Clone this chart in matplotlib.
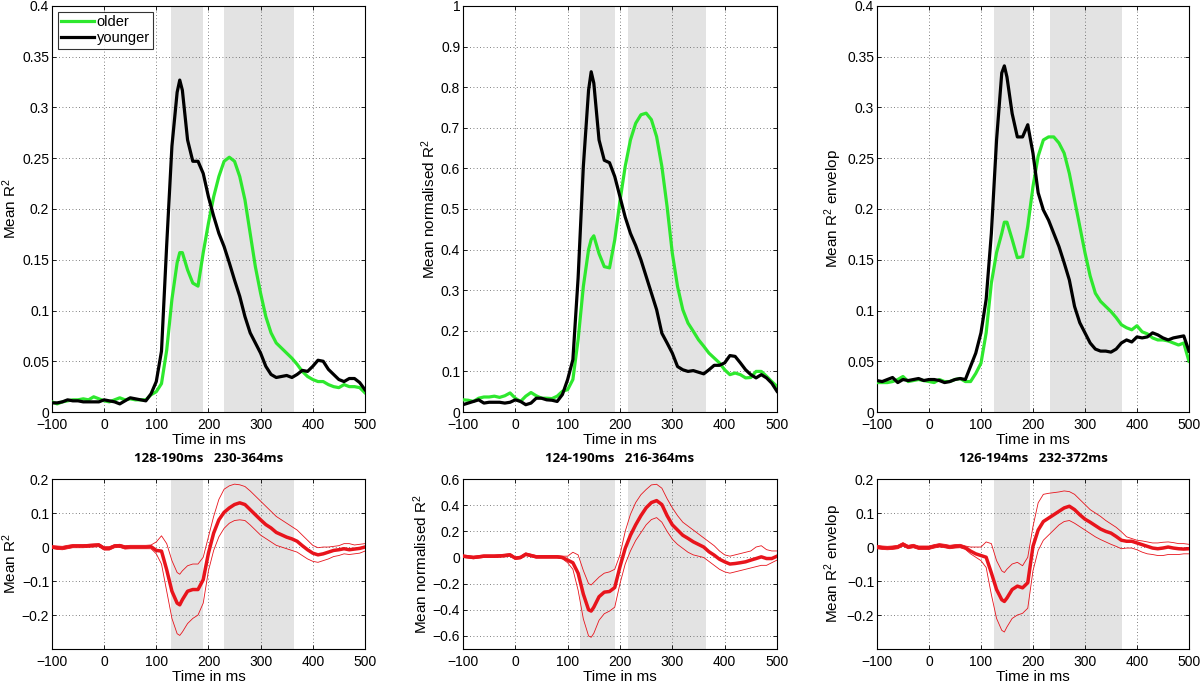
import matplotlib
matplotlib.use("Agg")
import matplotlib.pyplot as plt
from matplotlib.ticker import FuncFormatter

plt.rcParams['font.family'] = ['Liberation Sans', 'DejaVu Sans']
plt.rcParams['mathtext.fontset'] = 'custom'
plt.rcParams['mathtext.rm'] = 'Liberation Sans'
plt.rcParams['mathtext.it'] = 'Liberation Sans:italic'
plt.rcParams['font.size'] = 10.5

# time axis (ms): -100..140, 145, 150..500
time_ms = list(range(-100, 141, 10)) + [145] + list(range(150, 501, 10))

# ---- top row: older vs younger ----
r2_young = [0.009, 0.009, 0.010, 0.012, 0.011, 0.011, 0.010, 0.010, 0.010, 0.010,
            0.012, 0.011, 0.010, 0.008, 0.011, 0.014, 0.013, 0.012, 0.011, 0.018,
            0.030, 0.060, 0.165, 0.262, 0.315,
            0.327,
            0.317, 0.268, 0.247, 0.247, 0.235,
            0.212, 0.193, 0.176, 0.163, 0.147, 0.130, 0.114, 0.094, 0.078, 0.068,
            0.058, 0.045, 0.037, 0.034, 0.035, 0.036, 0.034, 0.037, 0.041, 0.040,
            0.045, 0.051, 0.050, 0.042, 0.037, 0.032, 0.030, 0.033, 0.033, 0.029,
            0.022]
r2_old = [0.010, 0.008, 0.010, 0.011, 0.012, 0.012, 0.013, 0.012, 0.015, 0.013,
          0.011, 0.010, 0.012, 0.014, 0.012, 0.013, 0.012, 0.012, 0.012, 0.017,
          0.020, 0.028, 0.061, 0.111, 0.147,
          0.157,
          0.157, 0.140, 0.127, 0.124, 0.157,
          0.186, 0.212, 0.232, 0.247, 0.251, 0.247, 0.232, 0.209, 0.176, 0.143,
          0.117, 0.094, 0.078, 0.068, 0.063, 0.058, 0.053, 0.047, 0.040, 0.035,
          0.032, 0.030, 0.030, 0.027, 0.025, 0.024, 0.027, 0.025, 0.025, 0.024,
          0.019]

norm_young = [0.018, 0.022, 0.026, 0.030, 0.022, 0.024, 0.024, 0.024, 0.022, 0.024,
              0.030, 0.026, 0.018, 0.022, 0.034, 0.034, 0.030, 0.029, 0.026, 0.043,
              0.080, 0.129, 0.330, 0.605, 0.793,
              0.838,
              0.810, 0.670, 0.620, 0.614, 0.580,
              0.530, 0.480, 0.440, 0.410, 0.375, 0.334, 0.293, 0.252, 0.194, 0.170,
              0.145, 0.112, 0.104, 0.100, 0.102, 0.098, 0.094, 0.104, 0.115, 0.115,
              0.121, 0.139, 0.137, 0.121, 0.104, 0.092, 0.084, 0.092, 0.084, 0.071,
              0.051]
norm_old = [0.030, 0.029, 0.026, 0.034, 0.037, 0.037, 0.039, 0.036, 0.040, 0.047,
            0.034, 0.026, 0.039, 0.048, 0.040, 0.034, 0.034, 0.033, 0.039, 0.051,
            0.055, 0.080, 0.178, 0.309, 0.400,
            0.425,
            0.434, 0.390, 0.358, 0.355, 0.424,
            0.520, 0.605, 0.670, 0.711, 0.732, 0.736, 0.720, 0.678, 0.605, 0.506,
            0.391, 0.309, 0.252, 0.219, 0.199, 0.178, 0.162, 0.145, 0.133, 0.121,
            0.104, 0.092, 0.096, 0.092, 0.084, 0.085, 0.100, 0.100, 0.088, 0.075,
            0.063]

env_young = [0.031, 0.030, 0.032, 0.034, 0.029, 0.032, 0.031, 0.032, 0.033, 0.031,
             0.032, 0.032, 0.031, 0.029, 0.030, 0.032, 0.033, 0.032, 0.045, 0.058,
             0.078, 0.111, 0.176, 0.268, 0.334,
             0.341,
             0.330, 0.294, 0.271, 0.271, 0.283,
             0.255, 0.216, 0.199, 0.189, 0.176, 0.163, 0.147, 0.130, 0.104, 0.088,
             0.078, 0.068, 0.062, 0.060, 0.060, 0.059, 0.062, 0.068, 0.071, 0.069,
             0.074, 0.073, 0.074, 0.078, 0.076, 0.073, 0.071, 0.073, 0.074, 0.075,
             0.060]
env_old = [0.029, 0.029, 0.029, 0.030, 0.032, 0.035, 0.030, 0.031, 0.032, 0.031,
           0.030, 0.029, 0.032, 0.030, 0.030, 0.032, 0.033, 0.030, 0.030, 0.038,
           0.048, 0.078, 0.127, 0.157, 0.176,
           0.187,
           0.187, 0.170, 0.152, 0.153, 0.183,
           0.222, 0.252, 0.268, 0.271, 0.271, 0.265, 0.255, 0.235, 0.209, 0.183,
           0.157, 0.134, 0.117, 0.109, 0.104, 0.099, 0.093, 0.086, 0.083, 0.081,
           0.085, 0.079, 0.077, 0.073, 0.071, 0.071, 0.070, 0.068, 0.066, 0.068,
           0.050]

# ---- bottom row: difference (older - younger) with confidence bounds ----
diff_r2 = [0.000, -0.002, -0.003, 0.000, 0.003, 0.003, 0.003, 0.004, 0.005, 0.006,
           -0.004, -0.004, 0.003, 0.004, -0.001, 0.000, 0.000, 0.000, 0.000, 0.001,
           -0.010, -0.012, -0.067, -0.130, -0.165,
           -0.170,
           -0.155, -0.130, -0.125, -0.125, -0.096,
           -0.018, 0.041, 0.080, 0.102, 0.115, 0.125, 0.130, 0.125, 0.110, 0.095,
           0.080, 0.066, 0.056, 0.043, 0.036, 0.029, 0.024, 0.017, 0.004, -0.008,
           -0.018, -0.023, -0.020, -0.015, -0.010, -0.008, -0.005, -0.008, -0.006, -0.004,
           0.000]
diff_r2_hi = [0.004, 0.003, 0.002, 0.005, 0.007, 0.007, 0.007, 0.008, 0.009, 0.010,
              0.001, 0.001, 0.007, 0.008, 0.004, 0.005, 0.005, 0.005, 0.005, 0.006,
              0.015, 0.033, 0.010, -0.040, -0.075,
              -0.080,
              -0.070, -0.055, -0.050, -0.050, -0.030,
              0.030, 0.090, 0.140, 0.170, 0.180, 0.185, 0.183, 0.178, 0.165, 0.150,
              0.135, 0.120, 0.105, 0.090, 0.080, 0.070, 0.060, 0.050, 0.035, 0.020,
              0.005, -0.002, 0.000, 0.000, 0.002, 0.004, 0.010, 0.010, 0.006, 0.008,
              0.010]
diff_r2_lo = [-0.004, -0.007, -0.008, -0.005, -0.002, -0.002, -0.002, -0.001, 0.000, 0.001,
              -0.009, -0.009, -0.002, -0.001, -0.006, -0.005, -0.005, -0.005, -0.005, -0.005,
              -0.020, -0.050, -0.130, -0.210, -0.255,
              -0.260,
              -0.250, -0.225, -0.210, -0.200, -0.165,
              -0.070, -0.010, 0.030, 0.055, 0.070, 0.078, 0.080, 0.078, 0.065, 0.050,
              0.035, 0.025, 0.015, 0.005, 0.000, -0.005, -0.010, -0.015, -0.025, -0.035,
              -0.042, -0.045, -0.040, -0.035, -0.028, -0.025, -0.020, -0.022, -0.020, -0.018,
              -0.012]

diff_norm = [0.010, 0.005, 0.000, 0.005, 0.010, 0.010, 0.010, 0.012, 0.015, 0.020,
             -0.005, 0.000, 0.025, 0.015, 0.005, 0.005, 0.005, 0.005, 0.005, 0.000,
             -0.020, -0.040, -0.120, -0.280, -0.400,
             -0.410,
             -0.380, -0.300, -0.265, -0.260, -0.230,
             -0.070, 0.070, 0.170, 0.250, 0.320, 0.380, 0.420, 0.435, 0.405, 0.320,
             0.250, 0.210, 0.170, 0.146, 0.120, 0.100, 0.080, 0.044, 0.018, -0.013,
             -0.033, -0.050, -0.046, -0.040, -0.033, -0.020, -0.008, 0.005, -0.008, -0.008,
             0.010]
diff_norm_hi = [0.020, 0.015, 0.010, 0.015, 0.020, 0.020, 0.020, 0.022, 0.025, 0.030,
                0.005, 0.010, 0.035, 0.025, 0.015, 0.015, 0.015, 0.015, 0.015, 0.010,
                0.010, 0.040, 0.020, -0.100, -0.200,
                -0.210,
                -0.190, -0.150, -0.120, -0.110, -0.090,
                0.020, 0.200, 0.330, 0.420, 0.480, 0.520, 0.555, 0.560, 0.530, 0.450,
                0.380, 0.320, 0.270, 0.240, 0.210, 0.180, 0.150, 0.120, 0.090, 0.050,
                0.020, 0.010, 0.020, 0.030, 0.040, 0.050, 0.080, 0.090, 0.060, 0.050,
                0.050]
diff_norm_lo = [0.000, -0.005, -0.010, -0.005, 0.000, 0.000, 0.000, 0.002, 0.005, 0.010,
                -0.015, -0.010, 0.015, 0.005, -0.005, -0.005, -0.005, -0.005, -0.005, -0.010,
                -0.040, -0.090, -0.250, -0.470, -0.600,
                -0.610,
                -0.580, -0.480, -0.430, -0.410, -0.380,
                -0.200, -0.050, 0.050, 0.130, 0.190, 0.250, 0.290, 0.305, 0.270, 0.200,
                0.140, 0.100, 0.070, 0.040, 0.020, 0.010, 0.000, -0.030, -0.060, -0.090,
                -0.110, -0.120, -0.110, -0.100, -0.090, -0.080, -0.070, -0.060, -0.060, -0.040,
                -0.020]

diff_env = [0.000, -0.002, -0.003, -0.002, 0.000, 0.008, 0.000, 0.003, -0.002, -0.002,
            -0.002, 0.002, 0.005, 0.003, 0.000, 0.002, 0.003, -0.002, -0.012, -0.020,
            -0.025, -0.030, -0.076, -0.125, -0.155,
            -0.160,
            -0.150, -0.125, -0.115, -0.120, -0.105,
            0.002, 0.050, 0.075, 0.085, 0.095, 0.105, 0.115, 0.120, 0.110, 0.095,
            0.082, 0.073, 0.063, 0.053, 0.046, 0.041, 0.031, 0.020, 0.017, 0.017,
            0.012, 0.007, 0.002, -0.003, -0.005, -0.003, 0.000, -0.003, -0.005, -0.006,
            -0.005]
diff_env_hi = [0.005, 0.003, 0.002, 0.003, 0.005, 0.013, 0.005, 0.008, 0.003, 0.003,
               0.003, 0.007, 0.010, 0.008, 0.005, 0.007, 0.008, 0.003, 0.000, 0.000,
               0.000, 0.015, 0.010, -0.040, -0.070,
               -0.075,
               -0.065, -0.050, -0.045, -0.055, -0.030,
               0.060, 0.130, 0.155, 0.158, 0.160, 0.162, 0.165, 0.163, 0.155, 0.140,
               0.125, 0.110, 0.100, 0.090, 0.078, 0.068, 0.058, 0.045, 0.030, 0.025,
               0.020, 0.018, 0.015, 0.012, 0.012, 0.014, 0.015, 0.013, 0.010, 0.010,
               0.008]
diff_env_lo = [-0.005, -0.007, -0.008, -0.007, -0.005, 0.003, -0.005, -0.002, -0.007, -0.007,
               -0.007, -0.003, 0.000, -0.002, -0.005, -0.003, -0.002, -0.007, -0.020, -0.030,
               -0.040, -0.060, -0.140, -0.210, -0.245,
               -0.250,
               -0.235, -0.210, -0.200, -0.195, -0.180,
               -0.070, -0.010, 0.020, 0.035, 0.050, 0.065, 0.075, 0.078, 0.070, 0.060,
               0.050, 0.040, 0.030, 0.022, 0.015, 0.008, 0.002, -0.005, -0.003, -0.003,
               -0.008, -0.015, -0.020, -0.022, -0.025, -0.025, -0.022, -0.022, -0.022, -0.020,
               -0.020]

# significant windows (ms) per measure
windows = [[(128, 190), (230, 364)],
           [(124, 190), (216, 364)],
           [(126, 194), (232, 372)]]
window_labels = ['128-190ms   230-364ms', '124-190ms   216-364ms', '126-194ms   232-372ms']

ylabels = ['Mean R$^2$', 'Mean normalised R$^2$', 'Mean R$^2$ envelop']
top_ylim = [(0, 0.4), (0, 1), (0, 0.4)]
top_yticks = [[0, 0.05, 0.1, 0.15, 0.2, 0.25, 0.3, 0.35, 0.4],
              [0, 0.1, 0.2, 0.3, 0.4, 0.5, 0.6, 0.7, 0.8, 0.9, 1],
              [0, 0.05, 0.1, 0.15, 0.2, 0.25, 0.3, 0.35, 0.4]]
bot_ylim = [(-0.3, 0.2), (-0.7, 0.6), (-0.3, 0.2)]
bot_yticks = [[-0.2, -0.1, 0, 0.1, 0.2],
              [-0.6, -0.4, -0.2, 0, 0.2, 0.4, 0.6],
              [-0.2, -0.1, 0, 0.1, 0.2]]
xticks = [-100, 0, 100, 200, 300, 400, 500]

top_old = [r2_old, norm_old, env_old]
top_young = [r2_young, norm_young, env_young]
bot_mean = [diff_r2, diff_norm, diff_env]
bot_hi = [diff_r2_hi, diff_norm_hi, diff_env_hi]
bot_lo = [diff_r2_lo, diff_norm_lo, diff_env_lo]

green = '#2ee82e'
red = '#e8141c'
shade = '#e3e3e3'

fig = plt.figure(figsize=(12, 6.86), dpi=100)
lefts = [0.0433, 0.3858, 0.7308]
widths = [0.2608, 0.2617, 0.2600]


def fmt(v, pos):
    return ('%g' % v).replace('-', '\u2212')


def style(ax, yticks, ylim):
    ax.set_xlim(-100, 500)
    ax.set_ylim(*ylim)
    ax.set_xticks(xticks)
    ax.set_yticks(yticks)
    ax.yaxis.set_major_formatter(FuncFormatter(fmt))
    ax.xaxis.set_major_formatter(FuncFormatter(fmt))
    ax.grid(True, linestyle=(0, (1, 3)), color='#555555', linewidth=0.6)
    ax.tick_params(direction='in', top=True, right=True, length=3, width=0.6,
                   pad=2, labelsize=10)
    ax.tick_params(axis='x', pad=4.5)
    for s in ax.spines.values():
        s.set_linewidth(0.8)
    ax.set_axisbelow(True)
    ax.set_xlabel('Time in ms', labelpad=0.5, fontsize=11)


for i in range(3):
    ax = fig.add_axes([lefts[i], 0.3994, widths[i], 0.5919])
    for a, b in windows[i]:
        ax.axvspan(a, b, color=shade, lw=0, zorder=0.5)
    ax.plot(time_ms, top_old[i], color=green, lw=2.3, label='older', zorder=3,
            solid_joinstyle='round')
    ax.plot(time_ms, top_young[i], color='black', lw=2.3, label='younger', zorder=3,
            solid_joinstyle='round')
    style(ax, top_yticks[i], top_ylim[i])
    ax.set_ylabel(ylabels[i], labelpad=2, fontsize=11)
    if i == 0:
        leg = ax.legend(loc='upper left', fancybox=False, edgecolor='black',
                        handlelength=2.2, borderpad=0.25, labelspacing=0.1,
                        handletextpad=0.2, borderaxespad=0.4, fontsize=10.5)
        leg.get_frame().set_linewidth(0.8)
    cx = lefts[i] + widths[i] / 2
    fig.text(cx, 0.332, window_labels[i], ha='center', va='center',
             family=['Open Sans', 'DejaVu Sans'], fontweight='bold', fontsize=9.5)

    axb = fig.add_axes([lefts[i], 0.0539, widths[i], 0.2478])
    for a, b in windows[i]:
        axb.axvspan(a, b, color=shade, lw=0, zorder=0.5)
    axb.plot(time_ms, bot_hi[i], color=red, lw=0.6, zorder=3)
    axb.plot(time_ms, bot_lo[i], color=red, lw=0.6, zorder=3)
    axb.plot(time_ms, bot_mean[i], color=red, lw=2.5, zorder=4, solid_joinstyle='round')
    style(axb, bot_yticks[i], bot_ylim[i])
    axb.set_ylabel(ylabels[i], labelpad=2, fontsize=11)

fig.savefig('out.png', dpi=100)
